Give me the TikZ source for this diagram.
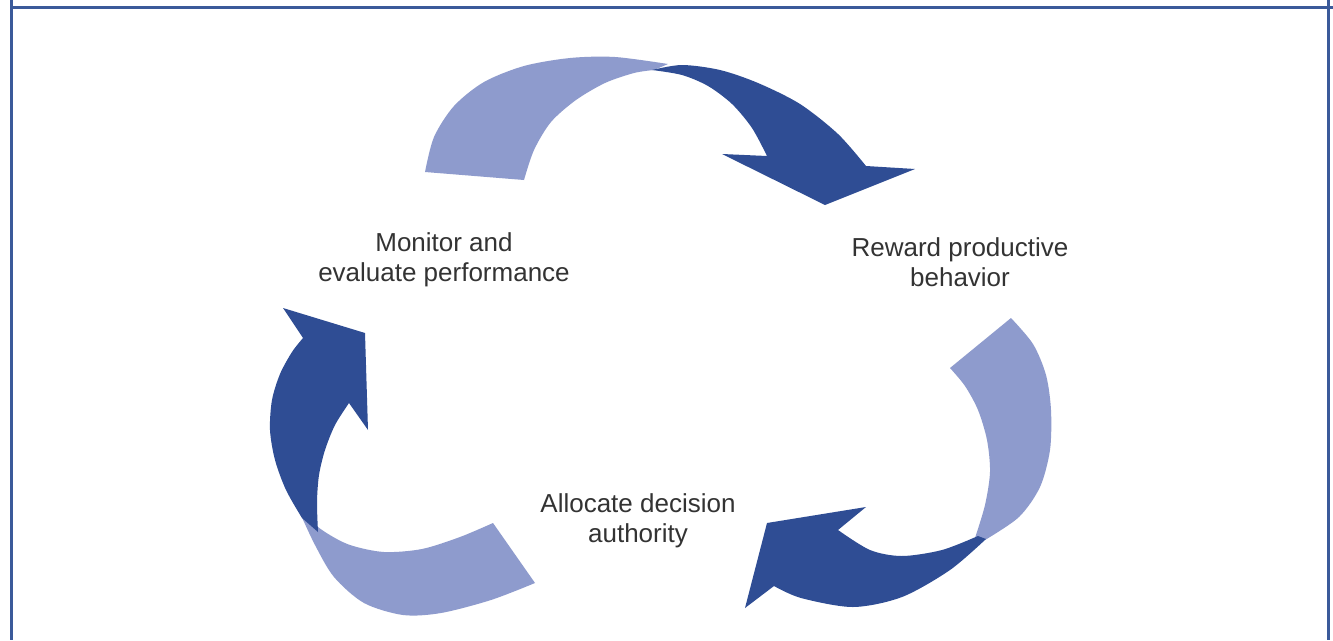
\documentclass[tikz,border=0pt]{standalone}
\usepackage{fontspec}
\setmainfont{Liberation Sans}
\definecolor{lightband}{HTML}{8E9BCD}
\definecolor{darkband}{HTML}{2F4D94}
\definecolor{framecol}{HTML}{3B5A9A}
\definecolor{txt}{HTML}{333333}
\begin{document}
\begin{tikzpicture}[x=1pt,y=-1pt,
  lbl/.style={align=center,inner sep=0pt,text=txt,font=\fontsize{26}{29.5}\selectfont},
  frameline/.style={draw=framecol,line width=3pt}]
\useasboundingbox (0,0) rectangle (1333,640);
\fill[white] (0,0) rectangle (1333,640);
% frame
\draw[frameline] (11,0) -- (11,640);
\draw[frameline] (1328,0) -- (1328,640);
\draw[frameline] (11,7) -- (1333,7);
% top arrow
\fill[lightband] plot[smooth] coordinates {(425,172) (434,137) (454,106) (484,82) (524,66) (570,58) (615,57) (668,64)}
  -- plot[smooth] coordinates {(654,70) (634,73) (605,83) (576,100) (551,122) (534,150) (524,180)} -- cycle;
\fill[darkband] plot[smooth] coordinates {(652,70) (682,65) (720,70) (758,83) (800,104) (838,134) (866,166)}
  -- (915,169) -- (825,205) -- (722,154)
  -- plot[smooth] coordinates {(767,156) (752,128) (732,104) (708,86) (682,75) (652,70)} -- cycle;
% right arrow
\fill[lightband] plot[smooth] coordinates {(1011,318) (1033,344) (1046,375) (1051,410) (1050,450) (1040,487) (1019,517) (985,540)}
  -- plot[smooth] coordinates {(975,538) (985,505) (990,472) (987,440) (978,410) (965,386) (950,368)} -- cycle;
\fill[darkband] plot[smooth] coordinates {(978,536) (942,550) (902,556) (870,550) (838,530)}
  -- (866,507) -- (767,523) -- (745,608)
  -- plot[smooth] coordinates {(774,586) (801,598) (853,607) (902,597) (950,570) (986,539)} -- cycle;
% left arrow
\fill[lightband] plot[smooth] coordinates {(300,513) (325,532) (350,545) (384,552) (422,549) (460,537) (493,523)}
  -- plot[smooth] coordinates {(535,583) (491,600) (441,613) (403,615) (364,603) (334,577) (315,545) (300,513)} -- cycle;
\fill[darkband] plot[smooth] coordinates {(302,518) (286,490) (275,460) (270,430) (272,400) (280,374) (292,352) (303,338)}
  -- (283,308) -- (365,333) -- (368,430)
  -- plot[smooth] coordinates {(349,403) (335,425) (325,450) (319,475) (317,502) (318,532)} -- cycle;
% labels
\node[lbl] (monitor) at (444,260) {Monitor and\\evaluate performance};
\node[lbl] (reward) at (960,262) {Reward productive\\behavior};
\node[lbl] (allocate) at (638,521) {Allocate decision\\authority};
\end{tikzpicture}
\end{document}
